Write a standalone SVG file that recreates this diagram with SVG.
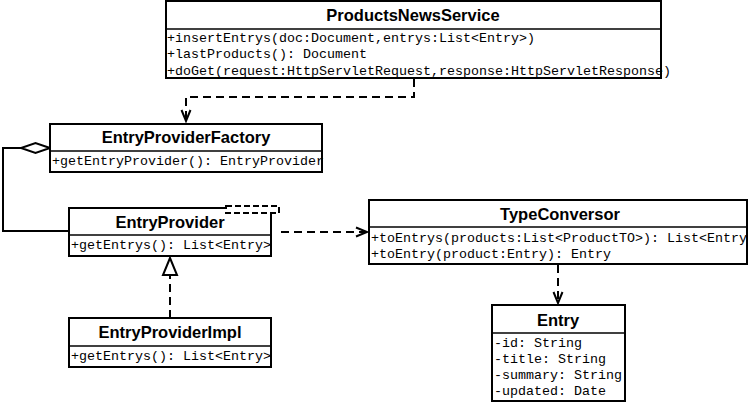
<svg xmlns="http://www.w3.org/2000/svg" width="749" height="403" viewBox="0 0 749 403">
<style>
.box{fill:#fff;stroke:#000;stroke-width:2}
.div{stroke:#000;stroke-width:1.5}
.title{font-family:"Liberation Sans",Arial,sans-serif;font-weight:bold;font-size:16.5px;text-anchor:middle;fill:#000}
.mem{font-family:"Liberation Mono","Courier New",monospace;font-size:13.33px;fill:#000}
.dash{fill:none;stroke:#000;stroke-width:2;stroke-dasharray:8 5}
.solid{fill:none;stroke:#000;stroke-width:2}
</style>
<defs>
<marker id="open" markerWidth="14" markerHeight="14" refX="12" refY="7" orient="auto" markerUnits="userSpaceOnUse">
<path d="M1,2.5 L12,7 L1,11.5" fill="none" stroke="#000" stroke-width="2"/>
</marker>
</defs>
<g id="connectors">
<path class="dash" d="M414,79 V97 H186 V121" marker-end="url(#open)"/>
<path class="solid" d="M21,148 H3 V231 H69"/>
<path d="M50,148 L35.5,143 L21,148 L35.5,153 Z" fill="#fff" stroke="#000" stroke-width="2"/>
<path class="dash" d="M281,232 H367" marker-end="url(#open)"/>
<path class="dash" d="M558,265 V303" marker-end="url(#open)"/>
<path class="dash" d="M170,318 V276"/>
<path d="M170,258 L177,275 L163,275 Z" fill="#fff" stroke="#000" stroke-width="2"/>
</g>
<g id="ProductsNewsService">
<rect class="box" x="166" y="1" width="495" height="77"/>
<line class="div" x1="166" y1="29" x2="661" y2="29"/>
<text class="title" x="413" y="21">ProductsNewsService</text>
<text class="mem" x="167" y="42">+insertEntrys(doc:Document,entrys:List&lt;Entry&gt;)</text>
<text class="mem" x="167" y="58">+lastProducts(): Document</text>
<text class="mem" x="167" y="75">+doGet(request:HttpServletRequest,response:HttpServletResponse)</text>
</g>
<g id="EntryProviderFactory">
<rect class="box" x="50" y="124" width="272" height="48"/>
<line class="div" x1="50" y1="151" x2="322" y2="151"/>
<text class="title" x="186" y="143">EntryProviderFactory</text>
<text class="mem" x="52" y="165">+getEntryProvider(): EntryProvider</text>
</g>
<g id="EntryProvider">
<rect class="box" x="69" y="208" width="202" height="48"/>
<line class="div" x1="69" y1="235" x2="271" y2="235"/>
<rect x="226" y="206" width="53" height="7" fill="#fff" stroke="#000" stroke-width="2" stroke-dasharray="6 3"/>
<text class="title" x="170" y="228">EntryProvider</text>
<text class="mem" x="71" y="249">+getEntrys(): List&lt;Entry&gt;</text>
</g>
<g id="TypeConversor">
<rect class="box" x="369" y="200" width="378" height="64"/>
<line class="div" x1="369" y1="227" x2="747" y2="227"/>
<text class="title" x="560" y="220">TypeConversor</text>
<text class="mem" x="371" y="242">+toEntrys(products:List&lt;ProductTO&gt;): List&lt;Entry</text>
<text class="mem" x="371" y="258">+toEntry(product:Entry): Entry</text>
</g>
<g id="Entry">
<rect class="box" x="492" y="305" width="133" height="96"/>
<line class="div" x1="492" y1="333" x2="625" y2="333"/>
<text class="title" x="558" y="326">Entry</text>
<text class="mem" x="494" y="347">-id: String</text>
<text class="mem" x="494" y="363">-title: String</text>
<text class="mem" x="494" y="379">-summary: String</text>
<text class="mem" x="494" y="395">-updated: Date</text>
</g>
<g id="EntryProviderImpl">
<rect class="box" x="69" y="318" width="202" height="49"/>
<line class="div" x1="69" y1="346" x2="271" y2="346"/>
<text class="title" x="170" y="338">EntryProviderImpl</text>
<text class="mem" x="71" y="360">+getEntrys(): List&lt;Entry&gt;</text>
</g>
</svg>
